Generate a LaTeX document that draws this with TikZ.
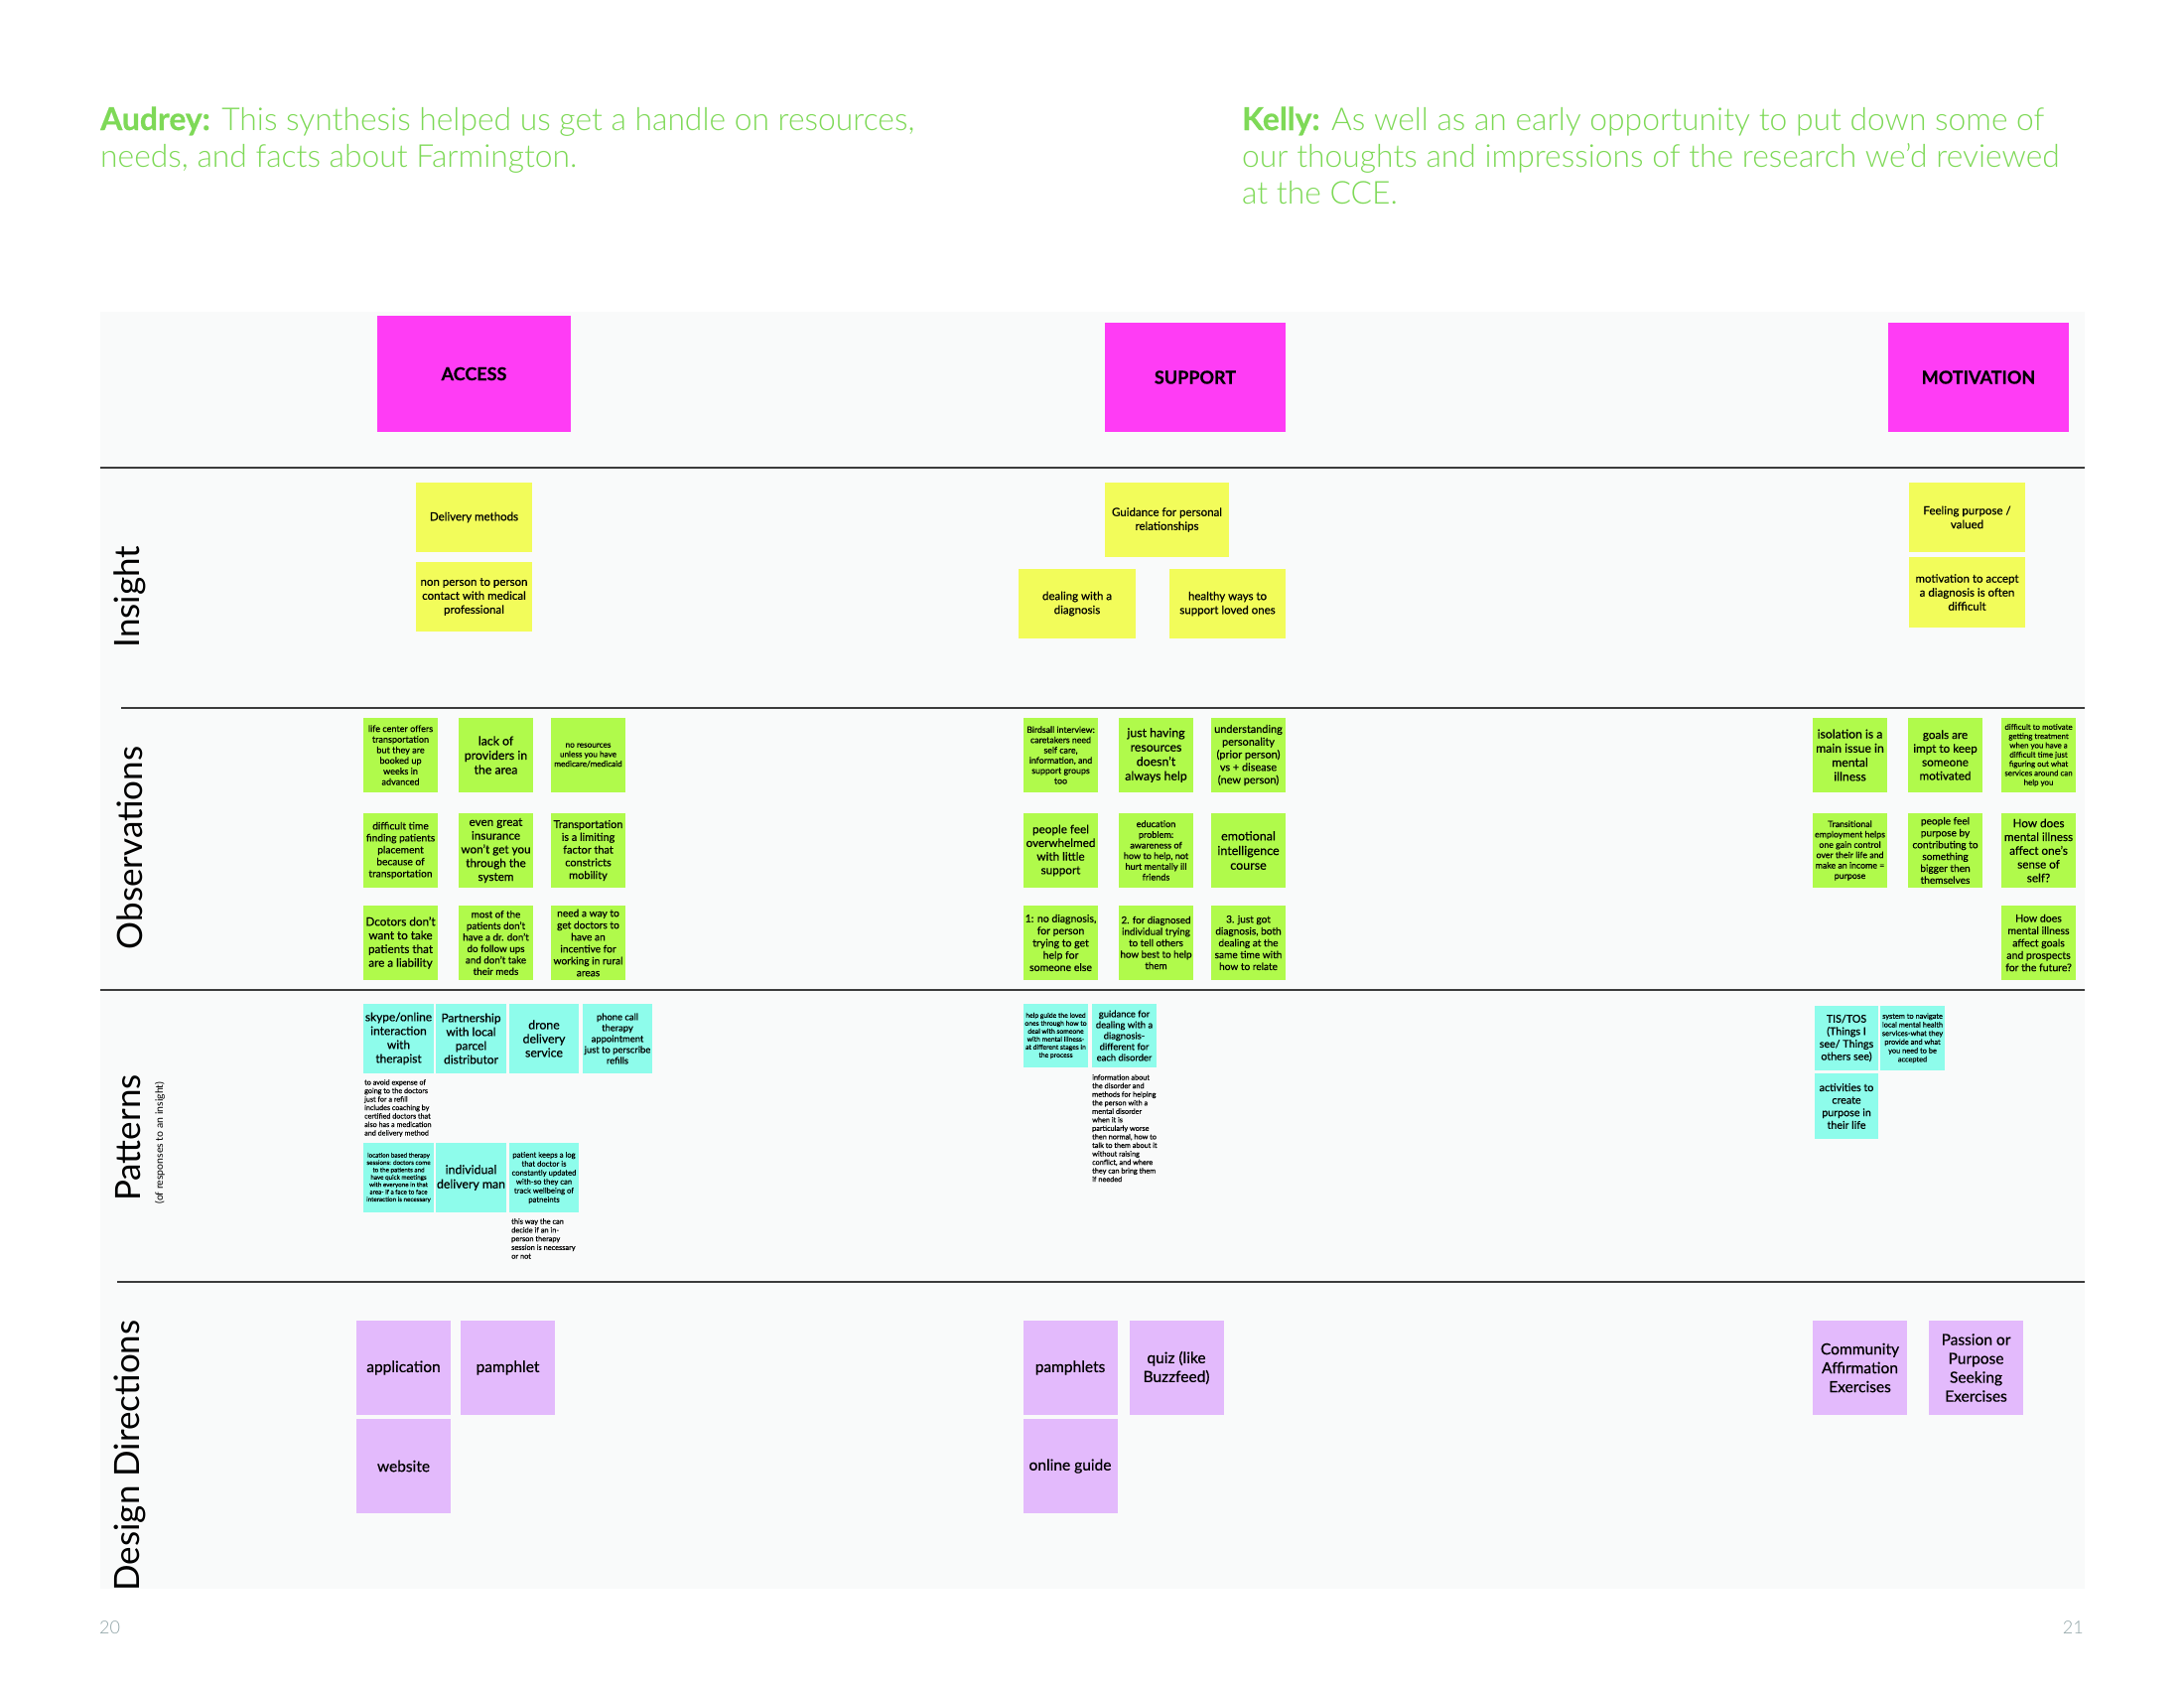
\documentclass[tikz,border=0pt]{standalone}
\usepackage{fontspec}
\setmainfont{Lato}[RawFeature={embolden=0.5}]
\newfontfamily\lightfont{Lato Light}
\newfontfamily\regfont{Lato}
\definecolor{mag}{HTML}{FF3CF5}
\definecolor{insy}{HTML}{F2FC5A}
\definecolor{obsg}{HTML}{B0FA4B}
\definecolor{patc}{HTML}{8EFCEB}
\definecolor{ddp}{HTML}{E3BAFC}
\definecolor{hgreen}{HTML}{7ED957}
\definecolor{pnl}{HTML}{F9FAFA}
\definecolor{sepc}{HTML}{3C3C3C}
\definecolor{pgnum}{HTML}{8FA3A6}
\newcommand\fsz[2]{\fontsize{#1}{#2}\selectfont}
\tikzset{
  note/.style={rectangle, inner sep=0pt, align=center, text=black},
  hdr/.style={note, fill=mag, font=\bfseries\fsz{18}{22}},
  ins/.style={note, fill=insy, minimum width=117pt, minimum height=70pt, font=\fsz{11.5}{14}},
  obs/.style={note, fill=obsg, minimum width=75pt, minimum height=75pt},
  pat/.style={note, fill=patc},
  ddn/.style={note, fill=ddp, minimum width=95pt, minimum height=95pt, font=\fsz{15.5}{19}},
  ann/.style={anchor=north west, inner sep=0pt, align=left, text=black},
  rowlab/.style={rotate=90, inner sep=0pt, text=black, font=\regfont\fsz{35}{40}},
  headl/.style={anchor=base west, inner sep=0pt, text=hgreen, font=\lightfont\fsz{31.8}{37}},
  sepline/.style={draw=sepc, line width=1.6pt},
  pgn/.style={inner sep=0pt, text=pgnum, font=\lightfont\fsz{18}{20}}
}
\begin{document}
\begin{tikzpicture}[x=1pt,y=-1pt]
\useasboundingbox (0,0) rectangle (2200,1700);
\fill[white] (0,0) rectangle (2200,1700);
\fill[pnl] (101,314) rectangle (2100,1600);

% header texts
\node[headl] (h1) at (101,131) {{\normalfont\bfseries Audrey:} This synthesis helped us get a handle on resources,};
\node[headl] (h2) at (101,168) {needs, and facts about Farmington.};
\node[headl] (k1) at (1251,131) {{\normalfont\bfseries Kelly:} As well as an early opportunity to put down some of};
\node[headl] (k2) at (1251,168) {our thoughts and impressions of the research we’d reviewed};
\node[headl] (k3) at (1251,205) {at the CCE.};

% separators
\draw[sepline] (101,471) -- (2100,471);
\draw[sepline] (122,713) -- (2100,713);
\draw[sepline] (101,997) -- (2100,997);
\draw[sepline] (118,1291) -- (2100,1291);

% row labels
\node[rowlab] (lins) at (131,601) {Insight};
\node[rowlab] (lobs) at (131,854) {Observations};
\node[rowlab] (lpat) at (129,1146) {Patterns};
\node[rowlab, font=\regfont\fsz{10.5}{12}] (lpats) at (161,1151) {(of responses to an insight)};
\node[rowlab] (ldd) at (131,1466) {Design Directions};

% category headers
\node[hdr, minimum width=195pt, minimum height=117pt] (access) at (477.5,376.5) {ACCESS};
\node[hdr, minimum width=182pt, minimum height=110pt] (support) at (1204,380) {SUPPORT};
\node[hdr, minimum width=182pt, minimum height=110pt] (motiv) at (1993,380) {MOTIVATION};

% insight
\node[ins] (ia1) at (477.5,521) {Delivery methods};
\node[ins] (ia2) at (477.5,601) {non person to person\\contact with medical\\professional};
\node[ins, minimum width=125pt, minimum height=75pt] (is1) at (1175.5,523.5) {Guidance for personal\\relationships};
\node[ins, minimum width=118pt] (is2) at (1085,608) {dealing with a\\diagnosis};
\node[ins] (is3) at (1236.5,608) {healthy ways to\\support loved ones};
\node[ins] (im1) at (1981.5,521) {Feeling purpose /\\valued};
\node[ins, minimum height=71pt] (im2) at (1981.5,596.5) {motivation to accept\\a diagnosis is often\\difficult};

% observations - access
\node[obs, font=\fsz{9.1}{10.7}] (oa1) at (403.5,760.5) {life center offers\\transportation\\but they are\\booked up\\weeks in\\advanced};
\node[obs, font=\fsz{12.3}{14.5}] (oa2) at (499.5,760.5) {lack of\\providers in\\the area};
\node[obs, font=\fsz{8.2}{9.7}] (oa3) at (592.5,760.5) {no resources\\unless you have\\medicare/medicaid};
\node[obs, font=\fsz{10.2}{12}] (oa4) at (403.5,856.5) {difficult time\\finding patients\\placement\\because of\\transportation};
\node[obs, font=\fsz{11.7}{13.8}] (oa5) at (499.5,856.5) {even great\\insurance\\won't get you\\through the\\system};
\node[obs, font=\fsz{10.9}{12.8}] (oa6) at (592.5,856.5) {Transportation\\is a limiting\\factor that\\constricts\\mobility};
\node[obs, font=\fsz{11.7}{13.8}] (oa7) at (403.5,949.5) {Dcotors don't\\want to take\\patients that\\are a liability};
\node[obs, font=\fsz{9.8}{11.5}] (oa8) at (499.5,949.5) {most of the\\patients don't\\have a dr. don't\\do follow ups\\and don't take\\their meds};
\node[obs, font=\fsz{10.2}{12}] (oa9) at (592.5,949.5) {need a way to\\get doctors to\\have an\\incentive for\\working in rural\\areas};

% observations - support
\node[obs, font=\fsz{8.8}{10.3}] (os1) at (1068.5,760.5) {Birdsall interview:\\caretakers need\\self care,\\information, and\\support groups\\too};
\node[obs, font=\fsz{12.3}{14.5}] (os2) at (1164.5,760.5) {just having\\resources\\doesn't\\always help};
\node[obs, font=\fsz{10.9}{12.8}] (os3) at (1257.5,760.5) {understanding\\personality\\(prior person)\\vs + disease\\(new person)};
\node[obs, font=\fsz{11.7}{13.7}] (os4) at (1068.5,856.5) {people feel\\overwhelmed\\with little\\support};
\node[obs, font=\fsz{9.1}{10.7}] (os5) at (1164.5,856.5) {education\\problem:\\awareness of\\how to help, not\\hurt mentally ill\\friends};
\node[obs, font=\fsz{12.5}{14.7}] (os6) at (1257.5,856.5) {emotional\\intelligence\\course};
\node[obs, font=\fsz{10.5}{12.3}] (os7) at (1068.5,949.5) {1: no diagnosis,\\for person\\trying to get\\help for\\someone else};
\node[obs, font=\fsz{9.8}{11.5}] (os8) at (1164.5,949.5) {2. for diagnosed\\individual trying\\to tell others\\how best to help\\them};
\node[obs, font=\fsz{10.1}{11.9}] (os9) at (1257.5,949.5) {3. just got\\diagnosis, both\\dealing at the\\same time with\\how to relate};

% observations - motivation
\node[obs, font=\fsz{12.2}{14.3}] (om1) at (1863.5,760.5) {isolation is a\\main issue in\\mental\\illness};
\node[obs, font=\fsz{11.7}{13.8}] (om2) at (1959.5,760.5) {goals are\\impt to keep\\someone\\motivated};
\node[obs, font=\fsz{7.9}{9.3}] (om3) at (2053.5,760.5) {difficult to motivate\\getting treatment\\when you have a\\difficult time just\\figuring out what\\services around can\\help you};
\node[obs, font=\fsz{8.8}{10.4}] (om4) at (1863.5,856.5) {Transitional\\employment helps\\one gain control\\over their life and\\make an income =\\purpose};
\node[obs, font=\fsz{10.1}{11.9}] (om5) at (1959.5,856.5) {people feel\\purpose by\\contributing to\\something\\bigger then\\themselves};
\node[obs, font=\fsz{11.7}{13.8}] (om6) at (2053.5,856.5) {How does\\mental illness\\affect one's\\sense of\\self?};
\node[obs, font=\fsz{10.5}{12.4}] (om7) at (2053.5,949.5) {How does\\mental illness\\affect goals\\and prospects\\for the future?};

% patterns - access
\node[pat, minimum width=71pt, minimum height=70pt, font=\fsz{11.9}{14}] (pa1) at (401.5,1046) {skype/online\\interaction\\with\\therapist};
\node[pat, minimum width=71pt, minimum height=70pt, font=\fsz{11.9}{14}] (pa2) at (474.5,1046) {Partnership\\with local\\parcel\\distributor};
\node[pat, minimum width=70pt, minimum height=70pt, font=\fsz{12.3}{14}] (pa3) at (548,1046) {drone\\delivery\\service};
\node[pat, minimum width=70pt, minimum height=70pt, font=\fsz{9.4}{11}] (pa4) at (622,1046) {phone call\\therapy\\appointment\\just to perscribe\\refills};
\node[ann, font=\fsz{7.2}{8.5}] (pa1n) at (367,1087) {to avoid expense of\\going to the doctors\\just for a refill\\includes coaching by\\certified doctors that\\also has a medication\\and delivery method};
\node[pat, minimum width=71pt, minimum height=70pt, font=\fsz{6.3}{7.4}] (pa5) at (401.5,1186) {location based therapy\\sessions: doctors come\\to the patients and\\have quick meetings\\with everyone in that\\area- if a face to face\\interaction is necessary};
\node[pat, minimum width=71pt, minimum height=70pt, font=\fsz{12.3}{14.5}] (pa6) at (474.5,1186) {individual\\delivery man};
\node[pat, minimum width=70pt, minimum height=70pt, font=\fsz{7.7}{9}] (pa7) at (548,1186) {patient keeps a log\\that doctor is\\constantly updated\\with-so they can\\track wellbeing of\\patneints};
\node[ann, font=\fsz{7.4}{8.75}] (pa7n) at (515,1227) {this way the can\\decide if an in-\\person therapy\\session is necessary\\or not};

% patterns - support
\node[pat, minimum width=65pt, minimum height=64pt, font=\fsz{6.8}{8}] (ps1) at (1063.5,1043) {help guide the loved\\ones through how to\\deal with someone\\with mental illness-\\at different stages in\\the process};
\node[pat, minimum width=65pt, minimum height=64pt, font=\fsz{9.4}{11}] (ps2) at (1132.5,1043) {guidance for\\dealing with a\\diagnosis-\\different for\\each disorder};
\node[ann, font=\fsz{7.3}{8.55}] (ps2n) at (1100,1082) {information about\\the disorder and\\methods for helping\\the person with a\\mental disorder\\when it is\\particularly worse\\then normal, how to\\talk to them about it\\without raising\\conflict, and where\\they can bring them\\if needed};

% patterns - motivation
\node[pat, minimum width=64pt, minimum height=65pt, font=\fsz{10.7}{12.6}] (pm1) at (1860,1045.5) {TIS/TOS\\(Things I\\see/ Things\\others see)};
\node[pat, minimum width=65pt, minimum height=65pt, font=\fsz{7.4}{8.7}] (pm2) at (1926.5,1045.5) {system to navigate\\local mental health\\services-what they\\provide and what\\you need to be\\accepted};
\node[pat, minimum width=64pt, minimum height=66pt, font=\fsz{10.7}{12.6}] (pm3) at (1860,1114) {activities to\\create\\purpose in\\their life};

% design directions
\node[ddn] (da1) at (406.5,1377.5) {application};
\node[ddn] (da2) at (511.5,1377.5) {pamphlet};
\node[ddn] (da3) at (406.5,1476.5) {website};
\node[ddn] (ds1) at (1078,1377.5) {pamphlets};
\node[ddn] (ds2) at (1185,1377.5) {quiz (like\\Buzzfeed)};
\node[ddn] (ds3) at (1078,1476.5) {online guide};
\node[ddn] (dm1) at (1873.5,1377.5) {Community\\Affirmation\\Exercises};
\node[ddn] (dm2) at (1990.5,1377.5) {Passion or\\Purpose\\Seeking\\Exercises};

% page numbers
\node[pgn, anchor=west] (p20) at (100,1639) {20};
\node[pgn, anchor=east] (p21) at (2099,1639) {21};
\end{tikzpicture}
\end{document}
